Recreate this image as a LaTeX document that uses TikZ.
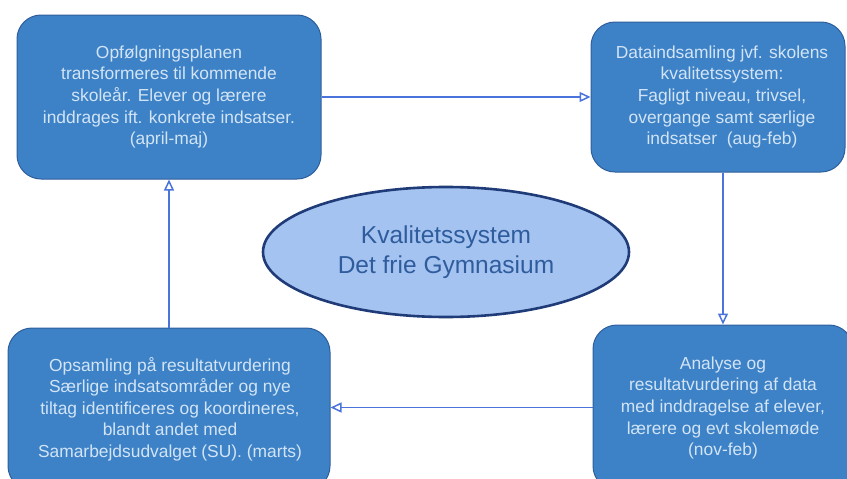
\documentclass[tikz,border=0pt]{standalone}
\usepackage{fontspec}
\setmainfont{Liberation Sans}
\usetikzlibrary{shapes.geometric,arrows.meta}
\definecolor{boxfill}{HTML}{3D82C6}
\definecolor{boxline}{HTML}{2F5E9C}
\definecolor{boxtext}{HTML}{D2E4F6}
\definecolor{ellfill}{HTML}{A5C3F1}
\definecolor{ellline}{HTML}{1F3B78}
\definecolor{elltext}{HTML}{2E5C9C}
\definecolor{arrcol}{HTML}{4A74DC}
\tikzset{
  stepbox/.style={draw=boxline, line width=1pt, fill=boxfill, rounded corners=24pt, rectangle},
  boxlabel/.style={text=boxtext, align=center, font=\fontsize{17.4pt}{21.6pt}\selectfont, inner sep=0pt},
  flow/.style={draw=arrcol, line width=1.5pt, -{Triangle[open,length=11pt,width=10pt,fill=white,line width=1.5pt]}},
}
\begin{document}
\begin{tikzpicture}[x=1pt,y=-1pt]
\useasboundingbox (0,0) rectangle (847,479);
\begin{scope}
\clip (0,0) rectangle (847,479);
% boxes
\node[stepbox, minimum width=304pt, minimum height=164pt] (tl) at (169,97) {};
\node[stepbox, minimum width=254pt, minimum height=150pt] (tr) at (718,97) {};
\node[stepbox, minimum width=322pt, minimum height=162pt] (bl) at (169,409) {};
\node[stepbox, minimum width=260pt, minimum height=165pt] (br) at (723,407.5) {};
% labels
\node[boxlabel] (tlt) at (169,97) {Opfølgningsplanen\\transformeres til kommende\\skoleår. Elever og lærere\\inddrages ift. konkrete indsatser.\\(april-maj)};
\node[boxlabel] (trt) at (722,97) {Dataindsamling jvf. skolens\\kvalitetssystem:\\Fagligt niveau, trivsel,\\overgange samt særlige\\indsatser\ \ (aug-feb)};
\node[boxlabel] (blt) at (170,409) {Opsamling på resultatvurdering\\Særlige indsatsområder og nye\\tiltag identificeres og koordineres,\\blandt andet med\\Samarbejdsudvalget (SU). (marts)};
\node[boxlabel] (brt) at (723,408) {Analyse og\\resultatvurdering af data\\med inddragelse af elever,\\lærere og evt skolemøde\\(nov-feb)};
% centre ellipse
\node[ellipse, draw=ellline, line width=2.6pt, fill=ellfill, minimum width=366pt, minimum height=130pt, text=elltext, align=center, font=\fontsize{24.5pt}{30pt}\selectfont] (ell) at (446,252) {Kvalitetssystem\\Det frie Gymnasium};
% connectors
\draw[flow] (tl.east) -- (tr.west);
\draw[flow] ([xshift=5pt]tr.south) -- ([xshift=5pt]tr.south |- br.north);
\draw[flow] (br.west) -- (br.west -| bl.east);
\draw[flow] (bl.north) -- (tl.south);
\end{scope}
\end{tikzpicture}
\end{document}
